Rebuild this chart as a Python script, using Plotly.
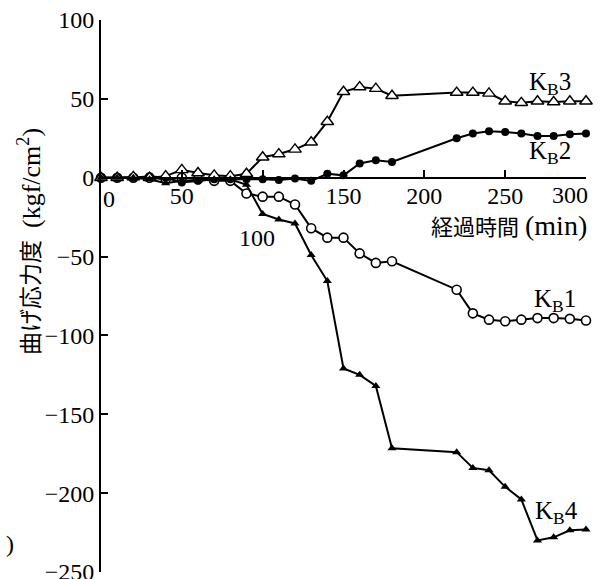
import plotly.graph_objects as go

# time (min)
t = [0, 10, 20, 30, 40, 50, 60, 70, 80, 90, 100, 110, 120, 130, 140, 150, 160, 170, 180,
     220, 230, 240, 250, 260, 270, 280, 290, 300]

kb1 = [0, 0, 0, 0, -1, 0, -1, -2, -2, -10, -12, -12, -17, -32, -38, -38, -48, -54, -53,
       -71, -86, -90, -91, -90, -89, -89, -89.5, -90.5]
kb2 = [0, 0, 0, 1, 0, -3, -2, -1, -1, -1, -1, -1.5, -0.5, -2, 2.5, 1.5, 9, 11, 10,
       25, 28, 29.5, 29, 28, 26.5, 26.5, 27.5, 28]
kb3 = [0, 0, 0.5, 0, 1, 5, 3, 1.5, 1, 2.5, 13, 15, 18, 22.5, 35.5, 54.5, 57.5, 56.5, 52,
       54, 54, 53.5, 48.5, 47.5, 48.5, 48, 48.5, 48.5]
kb4 = [0, 0, 0, -1, -3.5, -2, -2, -1, -1, -4.5, -23, -26.5, -29, -49, -65.5, -121, -125, -132, -171.5,
       -174, -184, -185.5, -196, -204, -230, -228, -223.5, -223]

x_ticks = [0, 50, 100, 150, 200, 250, 300]
x_ticktext = ["0", "50", "100", "150", "200", "250", "300"]
y_ticks = [100, 50, 0, -50, -100, -150, -200, -250]

series_labels = ["K<sub>B</sub>1", "K<sub>B</sub>2", "K<sub>B</sub>3", "K<sub>B</sub>4"]
label_x = [266.5, 263.5, 263.5, 267]
label_y = [-78, 16, 60, -212]

x_title_jp, x_title_unit = "経過時間", "(min)"
y_title_jp, y_title_unit = "曲げ応力度", "(kgf/cm<sup>2</sup>)"

SERIF = "Liberation Serif"
CJK = "Noto Sans CJK JP"

fig = go.Figure()

line = dict(color="black", width=2)
fig.add_trace(go.Scatter(x=t, y=kb1, mode="lines+markers", line=line, cliponaxis=False,
                         marker=dict(symbol="circle", size=9, color="white",
                                     line=dict(color="black", width=1.6))))
fig.add_trace(go.Scatter(x=t, y=kb2, mode="lines+markers", line=line, cliponaxis=False,
                         marker=dict(symbol="circle", size=8, color="black")))
fig.add_trace(go.Scatter(x=t, y=kb3, mode="lines+markers", line=line, cliponaxis=False,
                         marker=dict(symbol="triangle-up", size=11, color="white",
                                     line=dict(color="black", width=1.4))))
fig.add_trace(go.Scatter(x=t, y=kb4, mode="lines+markers", line=line, cliponaxis=False,
                         marker=dict(symbol="triangle-up", size=8, color="black")))

for txt, lx, ly in zip(series_labels, label_x, label_y):
    fig.add_annotation(x=lx, y=ly, xref="x", yref="y", text=txt, showarrow=False,
                       xanchor="left", yanchor="middle",
                       font=dict(family=SERIF, size=25, color="black"))

# x tick labels that sit off their usual place in the reference
tick_font = dict(family=SERIF, size=24, color="black")
fig.add_annotation(x=x_ticks[0], y=0, xref="x", yref="y", text=x_ticktext[0], showarrow=False,
                   xanchor="left", yanchor="top", xshift=0, yshift=-6, font=tick_font)
fig.add_annotation(x=x_ticks[2], y=-38, xref="x", yref="y", text=x_ticktext[2], showarrow=False,
                   xanchor="center", yanchor="middle", xshift=-6, font=tick_font)
fig.add_annotation(x=x_ticks[6], y=0, xref="x", yref="y", text=x_ticktext[6], showarrow=False,
                   xanchor="right", yanchor="top", xshift=4, yshift=-2, font=tick_font)
axis_ticktext = ["", x_ticktext[1], "", x_ticktext[3], x_ticktext[4], x_ticktext[5], ""]

# x axis title (two pieces: Japanese + unit)
fig.add_annotation(x=(521 - 101) / 485, y=(572 - 225) / 552, xref="paper", yref="paper",
                   text=x_title_jp, showarrow=False, xanchor="right", yanchor="middle",
                   font=dict(family=CJK, size=22, color="black"))
fig.add_annotation(x=(589 - 101) / 485, y=(572 - 225) / 552, xref="paper", yref="paper",
                   text=x_title_unit, showarrow=False, xanchor="right", yanchor="middle",
                   font=dict(family=SERIF, size=28, color="black"))

# y axis title (rotated, two pieces)
fig.add_annotation(x=(29 - 101) / 485, y=(572 - 298) / 552, xref="paper", yref="paper",
                   text=y_title_jp, showarrow=False, textangle=-90,
                   xanchor="center", yanchor="middle",
                   font=dict(family=CJK, size=23, color="black"))
fig.add_annotation(x=(29 - 101) / 485, y=(572 - 178) / 552, xref="paper", yref="paper",
                   text=y_title_unit, showarrow=False, textangle=-90,
                   xanchor="center", yanchor="middle",
                   font=dict(family=SERIF, size=26, color="black"))

# stray mark at bottom-left of the scan
fig.add_annotation(x=-0.2, y=0.05, xref="paper", yref="paper", text=")", showarrow=False,
                   xanchor="left", yanchor="middle",
                   font=dict(family=SERIF, size=24, color="black"))

fig.update_layout(
    width=602, height=579,
    margin=dict(l=101, r=16, t=20, b=7),
    paper_bgcolor="white", plot_bgcolor="white",
    showlegend=False,
    xaxis=dict(range=[0, 300], anchor="free", position=250 / 350, side="bottom",
               showline=True, linecolor="black", linewidth=2,
               ticks="inside", ticklen=7, tickwidth=1.5, tickcolor="black",
               tickvals=x_ticks, ticktext=axis_ticktext, showgrid=False, zeroline=False,
               ticklabeloverflow="allow", automargin=False, ticklabelstandoff=-4,
               tickfont=tick_font),
    yaxis=dict(range=[-250, 100], domain=[0, 1],
               showline=True, linecolor="black", linewidth=2,
               ticks="inside", ticklen=7, tickwidth=1.5, tickcolor="black",
               tickvals=y_ticks, showgrid=False, zeroline=False,
               ticklabeloverflow="allow", automargin=False,
               tickfont=tick_font),
)

fig.write_html("out.html")
